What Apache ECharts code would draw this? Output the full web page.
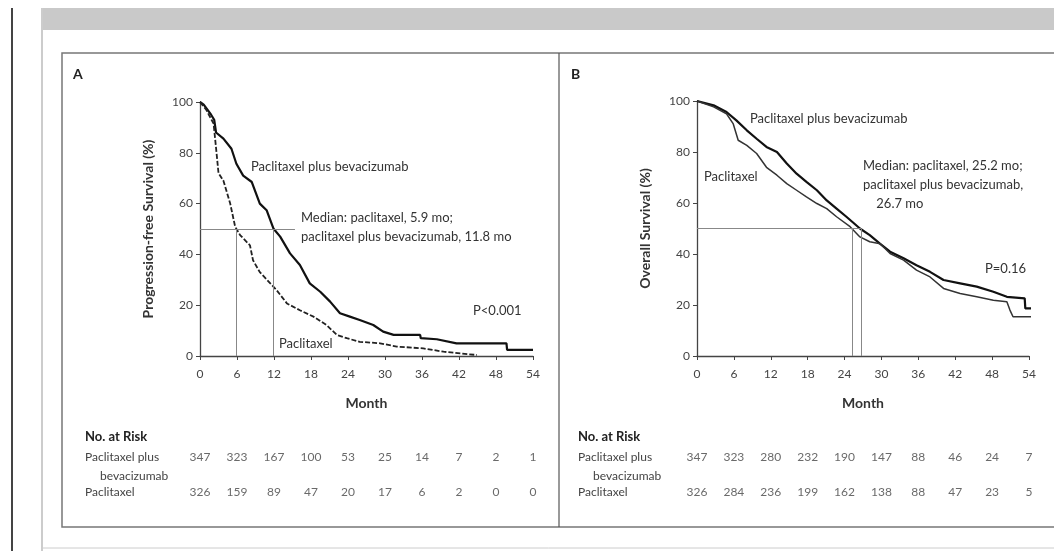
<!DOCTYPE html>
<html>
<head>
<meta charset="utf-8">
<script src="https://cdn.jsdelivr.net/npm/echarts@6/dist/echarts.min.js"></script>
<style>
  html, body { margin: 0; padding: 0; background: #fff; }
  #chart { width: 1054px; height: 551px; }
</style>
</head>
<body>
<div id="chart"></div>
<script>
// Kaplan-Meier panels A (PFS) and B (OS)
var months = [0, 6, 12, 18, 24, 30, 36, 42, 48, 54];
var yTicks = [0, 20, 40, 60, 80, 100];

// panel A: progression-free survival, [month, %]
var pfsBev = [[0,100],[0.6,99],[1.2,97],[1.8,95],[2.3,93],[2.6,88],[3.8,85.6],[5.1,81.6],[5.9,75.7],[7,71],[8.4,68.5],[9.7,60],[10.8,57.4],[11.9,50.2],[13,47],[14.6,40.4],[16.2,35.8],[17.8,28.6],[19.5,25.3],[21.1,21.4],[22.7,16.8],[24.3,15.5],[25.9,14.2],[28.1,12.2],[29.7,9.6],[31.4,8.3],[35.7,8.3],[35.8,7],[38.4,6.6],[41.6,5],[49.7,5],[49.8,2.4],[54,2.4]];
var pfsPac = [[0,100],[1,97],[2.2,91.5],[2.6,82],[3,72],[3.8,69],[4.9,60],[5.7,50.9],[6.5,47.6],[8.1,43.6],[8.6,37.7],[9.7,33],[11.4,28.6],[12.4,26],[14.1,20.7],[16.2,18],[18.4,15.5],[20.5,12.2],[22.2,8.3],[23.8,7],[25.9,5.6],[29.2,5],[31.9,3.7],[36.2,3],[39.5,1.7],[42.2,1],[44.9,0.4]];

// panel B: overall survival, [month, %]
var osBev = [[0,100],[2.7,98.3],[4.8,95.7],[6.4,92.4],[8.1,88.5],[9.7,85.2],[11.3,82],[13,80],[14.6,75.5],[16.2,71.5],[17.8,68.3],[19.5,65],[21.1,61],[22.7,57.8],[24.3,54.6],[26.5,50],[28.1,47.4],[29.8,44],[31.4,40.9],[33.6,38.3],[35.7,35.6],[37.9,33],[40.1,29.8],[42.8,28.5],[45.5,27.2],[48.2,25.2],[50.4,23.2],[53.3,22.6],[53.4,18.7],[55,18.7]];
var osPac = [[0,100],[2.7,97.7],[4.8,95],[5.9,91],[6.7,84.6],[8.1,82.6],[9.7,79.4],[11.3,74],[13,70.9],[14.6,67.6],[16.2,65],[17.8,62.4],[19.5,59.8],[21.1,57.8],[22.7,54.6],[24.9,50.7],[26.5,46.7],[28.1,44.8],[29.8,44],[31.4,40.2],[33.6,37.6],[35.7,33.7],[37.9,31],[40.1,26.5],[42.8,24.5],[45.5,23.2],[48.2,21.9],[50.4,21.3],[50.9,18],[51.4,15.4],[55,15.4]];

// medians
var medA = {pac: 5.9, bev: 11.8, lineEnd: 15.4};
var medB = {pac: 25.2, bev: 26.7, lineEnd: 26.7};

// numbers at risk
var riskA_bev = [347, 323, 167, 100, 53, 25, 14, 7, 2, 1];
var riskA_pac = [326, 159, 89, 47, 20, 17, 6, 2, 0, 0];
var riskB_bev = [347, 323, 280, 232, 190, 147, 88, 46, 24, 7];
var riskB_pac = [326, 284, 236, 199, 162, 138, 88, 47, 23, 5];

(function(){
    var FONT = 'Lato, "Noto Sans", sans-serif';
    var myChart = echarts.init(document.getElementById('chart'));

    function xAx(idx, show, name) {
        return {
            type: 'value', gridIndex: idx, min: 0, max: 54, interval: 6,
            show: show, name: name, nameLocation: 'middle', nameGap: 40,
            nameTextStyle: {fontFamily: FONT, fontSize: 14, fontWeight: 'bold', color: '#333'},
            axisLine: {lineStyle: {color: '#444', width: 1.3}},
            axisTick: {show: true, length: 4, lineStyle: {color: '#444'}},
            axisLabel: {fontFamily: FONT, fontSize: 12, color: '#444', margin: 12},
            splitLine: {show: false}
        };
    }
    function yAx(idx, name) {
        return {
            type: 'value', gridIndex: idx, min: 0, max: 100, interval: 20,
            name: name, nameLocation: 'middle', nameGap: 45, nameRotate: 90,
            nameTextStyle: {fontFamily: FONT, fontSize: 14, fontWeight: 'bold', color: '#333'},
            axisLine: {show: true, lineStyle: {color: '#444', width: 1.3}},
            axisTick: {show: true, length: 4, lineStyle: {color: '#444'}},
            axisLabel: {fontFamily: FONT, fontSize: 12, color: '#444', margin: 7,
                formatter: function (v) { return yTicks.indexOf(v) >= 0 ? v : ''; }},
            splitLine: {show: false}
        };
    }
    function riskY(idx) {
        return {type: 'value', gridIndex: idx, min: 0, max: 1, show: false};
    }
    function riskSeries(idx, vals, y) {
        return {
            type: 'scatter', xAxisIndex: idx, yAxisIndex: idx, symbolSize: 0, silent: true,
            data: vals.map(function (v, i) { return [months[i], y, v]; }),
            label: {show: true, position: 'inside', fontFamily: FONT, fontSize: 12, color: '#444',
                formatter: function (p) { return p.data[2]; }}
        };
    }
    function medLines(m) {
        return {
            silent: true, symbol: 'none', label: {show: false},
            lineStyle: {color: '#888', width: 1, type: 'solid'},
            data: [
                [{coord: [0, 50]}, {coord: [m.lineEnd, 50]}],
                [{coord: [m.pac, 0]}, {coord: [m.pac, 50]}],
                [{coord: [m.bev, 0]}, {coord: [m.bev, 50]}]
            ]
        };
    }
    // text placed by its left edge and vertical centre of first line
    function txt(x, y, s, size, weight, color) {
        return {type: 'text', x: x, y: y, silent: true,
            style: {text: s, fontFamily: FONT, fontSize: size || 13, fontWeight: weight || 'normal',
                fill: color || '#333', lineHeight: 19, verticalAlign: 'middle', align: 'left'}};
    }

    var option = {
        backgroundColor: '#fff',
        animation: false,
        grid: [
            {left: 200, top: 102, width: 333, height: 254},
            {left: 697, top: 101, width: 332, height: 255},
            {left: 200, top: 457, width: 333, height: 35},
            {left: 697, top: 457, width: 332, height: 35}
        ],
        xAxis: [xAx(0, true, 'Month'), xAx(1, true, 'Month'), xAx(2, false), xAx(3, false)],
        yAxis: [yAx(0, 'Progression-free Survival (%)'), yAx(1, 'Overall Survival (%)'), riskY(2), riskY(3)],
        series: [
            {name: 'A Paclitaxel plus bevacizumab', type: 'line', xAxisIndex: 0, yAxisIndex: 0,
                data: pfsBev, showSymbol: false, clip: false,
                lineStyle: {color: '#111', width: 2.2}, markLine: medLines(medA)},
            {name: 'A Paclitaxel', type: 'line', xAxisIndex: 0, yAxisIndex: 0,
                data: pfsPac, showSymbol: false, clip: false,
                lineStyle: {color: '#222', width: 1.8, type: [5, 2]}},
            {name: 'B Paclitaxel plus bevacizumab', type: 'line', xAxisIndex: 1, yAxisIndex: 1,
                data: osBev, showSymbol: false, clip: false,
                lineStyle: {color: '#111', width: 2.2}, markLine: medLines(medB)},
            {name: 'B Paclitaxel', type: 'line', xAxisIndex: 1, yAxisIndex: 1,
                data: osPac, showSymbol: false, clip: false,
                lineStyle: {color: '#333', width: 1.5}},
            riskSeries(2, riskA_bev, 1), riskSeries(2, riskA_pac, 0),
            riskSeries(3, riskB_bev, 1), riskSeries(3, riskB_pac, 0)
        ],
        graphic: [
            // page frame
            {type: 'line', silent: true, shape: {x1: 12, y1: 8, x2: 12, y2: 551}, style: {stroke: '#444', lineWidth: 2}},
            {type: 'line', silent: true, shape: {x1: 42, y1: 8, x2: 42, y2: 551}, style: {stroke: '#bbb', lineWidth: 1.5}},
            {type: 'rect', silent: true, shape: {x: 43, y: 8, width: 1011, height: 22}, style: {fill: '#c9c9c9'}},
            {type: 'line', silent: true, shape: {x1: 43, y1: 548, x2: 1054, y2: 548}, style: {stroke: '#ccc', lineWidth: 1}},
            {type: 'rect', silent: true, shape: {x: 62, y: 53, width: 1000, height: 474},
                style: {fill: 'none', stroke: '#777', lineWidth: 1.5}},
            {type: 'line', silent: true, shape: {x1: 559, y1: 53, x2: 559, y2: 527}, style: {stroke: '#555', lineWidth: 1.2}},
            // panel letters
            txt(73, 74, 'A', 14, 'bold', '#222'),
            txt(571, 74, 'B', 14, 'bold', '#222'),
            // panel A annotations
            txt(251, 167, 'Paclitaxel plus bevacizumab'),
            txt(301, 227, 'Median: paclitaxel, 5.9 mo;\npaclitaxel plus bevacizumab, 11.8 mo'),
            txt(473, 311, 'P<0.001'),
            txt(279, 344, 'Paclitaxel'),
            // panel B annotations
            txt(750, 119, 'Paclitaxel plus bevacizumab'),
            txt(704, 177, 'Paclitaxel'),
            txt(863, 185, 'Median: paclitaxel, 25.2 mo;\npaclitaxel plus bevacizumab,\n    26.7 mo'),
            txt(985, 269, 'P=0.16'),
            // risk tables
            txt(85, 437, 'No. at Risk', 13, 'bold', '#222'),
            txt(85, 457, 'Paclitaxel plus', 12, 'normal', '#444'),
            txt(100, 476, 'bevacizumab', 12, 'normal', '#444'),
            txt(85, 492, 'Paclitaxel', 12, 'normal', '#444'),
            txt(578, 437, 'No. at Risk', 13, 'bold', '#222'),
            txt(578, 457, 'Paclitaxel plus', 12, 'normal', '#444'),
            txt(593, 476, 'bevacizumab', 12, 'normal', '#444'),
            txt(578, 492, 'Paclitaxel', 12, 'normal', '#444')
        ]
    };
    myChart.setOption(option);
    window.addEventListener('resize', function() {
        myChart.resize();
    })
})();
</script>
</body>
</html>
